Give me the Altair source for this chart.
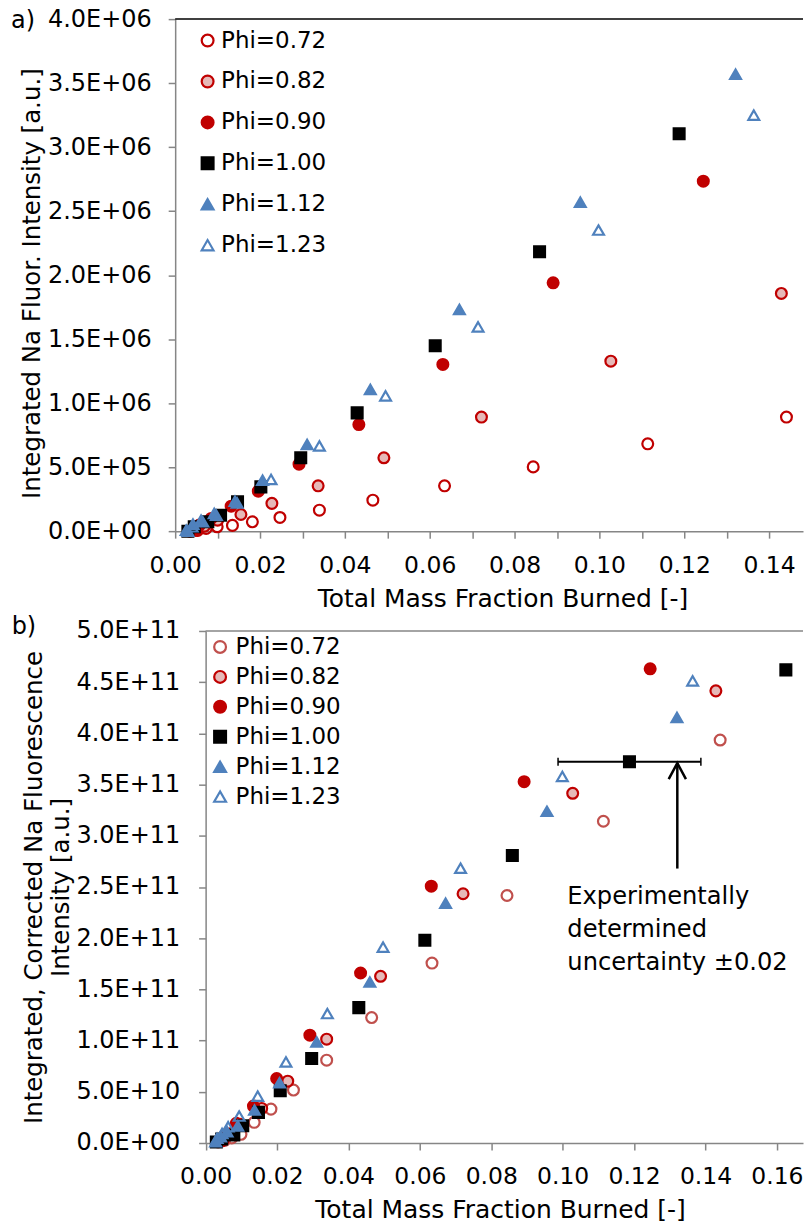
import altair as alt
import pandas as pd

PHI = ["Phi=0.72", "Phi=0.82", "Phi=0.90", "Phi=1.00", "Phi=1.12", "Phi=1.23"]
SHAPES = ["circle", "circle", "circle", "square", "triangle-up", "triangle-up"]
FILLS = ["transparent", "#E6B9B8", "#C00000", "#000000", "#4F81BD", "transparent"]
STROKES_A = ["#C00000", "#C00000", "#C00000", "#000000", "#4F81BD", "#4F81BD"]
STROKES_B = ["#C0504D", "#C00000", "#C00000", "#000000", "#4F81BD", "#4F81BD"]

# ---------------- panel a) ----------------
a_x_072 = [0.0035, 0.0053, 0.0073, 0.0099, 0.0135, 0.0182, 0.0247, 0.0340, 0.0466, 0.0635, 0.0844, 0.1114, 0.1441]
a_y_072 = [0.0, 0.005e6, 0.021e6, 0.034e6, 0.045e6, 0.073e6, 0.107e6, 0.164e6, 0.242e6, 0.354e6, 0.502e6, 0.682e6, 0.891e6]
a_x_082 = [0.0049, 0.0069, 0.0100, 0.0155, 0.0228, 0.0337, 0.0492, 0.0722, 0.1027, 0.1429]
a_y_082 = [0.008e6, 0.039e6, 0.086e6, 0.130e6, 0.217e6, 0.354e6, 0.573e6, 0.891e6, 1.328e6, 1.857e6]
a_x_090 = [0.0045, 0.0057, 0.0085, 0.0132, 0.0196, 0.0292, 0.0433, 0.0631, 0.0891, 0.1245]
a_y_090 = [0.008e6, 0.047e6, 0.099e6, 0.195e6, 0.3125e6, 0.523e6, 0.833e6, 1.302e6, 1.940e6, 2.734e6]
a_x_100 = [0.0030, 0.0045, 0.0077, 0.0107, 0.0147, 0.0202, 0.0296, 0.0429, 0.0613, 0.0859, 0.1188]
a_y_100 = [0.0, 0.034e6, 0.073e6, 0.125e6, 0.229e6, 0.346e6, 0.573e6, 0.924e6, 1.448e6, 2.182e6, 3.104e6]
a_x_112 = [0.0026, 0.0042, 0.0061, 0.0092, 0.0141, 0.0206, 0.0311, 0.0460, 0.0670, 0.0955, 0.1321]
a_y_112 = [0.008e6, 0.055e6, 0.086e6, 0.138e6, 0.234e6, 0.398e6, 0.677e6, 1.107e6, 1.732e6, 2.570e6, 3.570e6]
a_x_123 = [0.0030, 0.0040, 0.0065, 0.0097, 0.0146, 0.0226, 0.0340, 0.0496, 0.0714, 0.0998, 0.1364]
a_y_123 = [0.0, 0.034e6, 0.073e6, 0.125e6, 0.221e6, 0.404e6, 0.666e6, 1.057e6, 1.596e6, 2.352e6, 3.250e6]

# ---------------- panel b) ----------------
b_x_072 = [0.0035, 0.0053, 0.0073, 0.0099, 0.0136, 0.0183, 0.0246, 0.0339, 0.0465, 0.0634, 0.0844, 0.1114, 0.1441]
b_y_072 = [0.01e11, 0.025e11, 0.05e11, 0.085e11, 0.202e11, 0.331e11, 0.517e11, 0.809e11, 1.225e11, 1.757e11, 2.417e11, 3.142e11, 3.935e11]
b_x_082 = [0.0049, 0.0069, 0.0097, 0.0157, 0.0230, 0.0339, 0.0490, 0.0721, 0.1028, 0.1429]
b_y_082 = [0.03e11, 0.09e11, 0.182e11, 0.338e11, 0.604e11, 1.014e11, 1.628e11, 2.434e11, 3.415e11, 4.415e11]
b_x_090 = [0.0045, 0.0057, 0.0086, 0.0134, 0.0199, 0.0292, 0.0434, 0.0632, 0.0892, 0.1245]
b_y_090 = [0.02e11, 0.08e11, 0.192e11, 0.361e11, 0.630e11, 1.053e11, 1.660e11, 2.508e11, 3.528e11, 4.630e11]
b_x_100 = [0.0030, 0.0045, 0.0079, 0.0104, 0.0148, 0.0209, 0.0297, 0.0429, 0.0614, 0.0859, 0.1187, 0.1625]
b_y_100 = [0.01e11, 0.04e11, 0.078e11, 0.169e11, 0.299e11, 0.510e11, 0.825e11, 1.322e11, 1.979e11, 2.807e11, 3.723e11, 4.620e11]
b_x_112 = [0.0028, 0.0042, 0.0060, 0.0090, 0.0137, 0.0207, 0.0311, 0.0460, 0.0672, 0.0956, 0.1320]
b_y_112 = [0.013e11, 0.061e11, 0.110e11, 0.166e11, 0.322e11, 0.588e11, 0.987e11, 1.572e11, 2.342e11, 3.239e11, 4.155e11]
b_x_123 = [0.0032, 0.0046, 0.0063, 0.0094, 0.0146, 0.0225, 0.0341, 0.0497, 0.0714, 0.0999, 0.1364]
b_y_123 = [0.046e11, 0.094e11, 0.159e11, 0.263e11, 0.458e11, 0.792e11, 1.264e11, 1.913e11, 2.683e11, 3.580e11, 4.513e11]

# uncertainty annotation (panel b)
err_x_center = [0.1187]
err_halfwidth = 0.02
err_y = [3.723e11]
arrow_x = [0.1321]
arrow_y_start = [2.68e11]
arrow_y_tip = [3.71e11]
ann_lines = ["Experimentally", "determined", "uncertainty \u00b10.02"]
ann_x = [0.1013]
ann_y = [2.515e11]

A_XS = [a_x_072, a_x_082, a_x_090, a_x_100, a_x_112, a_x_123]
A_YS = [a_y_072, a_y_082, a_y_090, a_y_100, a_y_112, a_y_123]
B_XS = [b_x_072, b_x_082, b_x_090, b_x_100, b_x_112, b_x_123]
B_YS = [b_y_072, b_y_082, b_y_090, b_y_100, b_y_112, b_y_123]

FONT = "DejaVu Sans"
GRAY = "#868686"


def make_df(xs, ys):
    rows = []
    for k, p in enumerate(PHI):
        for x, y in zip(xs[k], ys[k]):
            rows.append({"phi": p, "k": k, "x": x, "y": y})
    return pd.DataFrame(rows)


def legend(lx, ly, row_pad, label_off):
    return alt.Legend(title=None, orient="none", legendX=lx, legendY=ly,
                      rowPadding=row_pad, labelOffset=label_off, symbolSize=140,
                      symbolStrokeWidth=2.2, labelFontSize=23, labelFont=FONT,
                      padding=0, labelColor="black")


def points(df, xaxis, yaxis, xscale, ymax, strokes, leg):
    return alt.Chart(df).mark_point(size=118, strokeWidth=2.2, opacity=1, filled=False).encode(
        x=alt.X("x:Q", scale=xscale, axis=xaxis),
        y=alt.Y("y:Q", scale=alt.Scale(domain=[0, ymax], nice=False, zero=False), axis=yaxis),
        shape=alt.Shape("phi:N", scale=alt.Scale(domain=PHI, range=SHAPES), legend=leg),
        fill=alt.Fill("phi:N", scale=alt.Scale(domain=PHI, range=FILLS), legend=leg),
        stroke=alt.Stroke("phi:N", scale=alt.Scale(domain=PHI, range=strokes), legend=leg),
        order=alt.Order("k:Q"),
    )


X_LABEL = "round(datum.value*100) % 2 == 0 ? format(datum.value, '.2f') : ''"

# ---------- top ----------
A_W = 629
A_XMAX = 0.1480
A_YMAX = 4.0e6
a_xscale = alt.Scale(domain=[0, A_XMAX], nice=False, zero=False)
a_xaxis = alt.Axis(values=[i / 100 for i in range(15)], labelExpr=X_LABEL,
                   title="Total Mass Fraction Burned [-]", titleX=328, titleY=55,
                   titleAlign="center", titleBaseline="top", titleFontSize=25,
                   labelFontSize=23.5, tickSize=7, labelPadding=15, labelOverlap=False,
                   labelFlush=False)
a_yaxis = alt.Axis(values=[i * 250000 for i in range(17)],
                   labelExpr="round(datum.value/250000) % 2 == 0 ? (datum.value == 0 ? '0.0E+00' : replace(upper(format(datum.value, '.1e')), 'E+', 'E+0')) : ''",
                   title="Integrated Na Fluor. Intensity [a.u.]", titleAngle=270,
                   titleX=-142.7, titleY=264.5, titleAlign="center", titleBaseline="middle",
                   titleFontSize=24.5, tickSize=7, labelPadding=17, labelOverlap=False,
                   labelFlush=False)

a_pts = points(make_df(A_XS, A_YS), a_xaxis, a_yaxis, a_xscale, A_YMAX, STROKES_A,
               legend(21, 10, 17, 2))
a_top = alt.Chart(pd.DataFrame({"x": [0.0], "x2": [A_XMAX], "y": [A_YMAX]})).mark_rule(
    color="black", strokeWidth=1.5).encode(x="x:Q", x2="x2:Q", y="y:Q")
a_lbl = alt.Chart(pd.DataFrame({"t": ["a)"]})).mark_text(
    align="left", baseline="middle", fontSize=24, font=FONT, color="black").encode(
    text="t:N", x=alt.value(-164.5), y=alt.value(2))
top = alt.layer(a_pts, a_top, a_lbl).properties(width=A_W, height=513)

# ---------- bottom ----------
B_SHIFT = 30.5
B_W = 629
B_XMAX = 0.1673
B_YMAX = 5.0e11
b_xscale = alt.Scale(domain=[0, B_XMAX], nice=False, zero=False, range=[B_SHIFT, B_W])
b_xaxis = alt.Axis(values=[i / 100 for i in range(17)], labelExpr=X_LABEL,
                   title="Total Mass Fraction Burned [-]", titleX=B_SHIFT + 295, titleY=55,
                   titleAlign="center", titleBaseline="top", titleFontSize=25,
                   labelFontSize=23.5, tickSize=7, labelPadding=15, labelOverlap=False,
                   labelFlush=False)
b_yaxis = alt.Axis(values=[i * 2.5e10 for i in range(21)],
                   labelExpr="round(datum.value/2.5e10) % 2 == 0 ? (datum.value == 0 ? '0.0E+00' : upper(format(datum.value, '.1e'))) : ''",
                   title=["Integrated, Corrected Na Fluorescence", "Intensity [a.u.]"],
                   titleAngle=270, titleX=-171.7, titleY=256.5, titleAlign="center",
                   titleBaseline="middle", titleLineHeight=27.3, titleFontSize=24.5,
                   tickSize=7, labelPadding=19, labelOverlap=False, labelFlush=False,
                   offset=-B_SHIFT)

b_pts = points(make_df(B_XS, B_YS), b_xaxis, b_yaxis, b_xscale, B_YMAX, STROKES_B,
               legend(B_SHIFT + 3, 4.5, 6, 4))
b_top = alt.Chart(pd.DataFrame({"x": [0.0], "x2": [B_XMAX], "y": [B_YMAX]})).mark_rule(
    color=GRAY, strokeWidth=1.5).encode(x="x:Q", x2="x2:Q", y="y:Q")
b_lbl = alt.Chart(pd.DataFrame({"t": ["b)"]})).mark_text(
    align="left", baseline="middle", fontSize=24, font=FONT, color="black").encode(
    text="t:N", x=alt.value(B_SHIFT - 194.3), y=alt.value(-3.5))

err_df = pd.DataFrame({
    "x1": [c - err_halfwidth for c in err_x_center],
    "x2": [c + err_halfwidth for c in err_x_center],
    "y": err_y,
})
err_bar = alt.Chart(err_df).mark_rule(color="black", strokeWidth=2).encode(
    x="x1:Q", x2="x2:Q", y="y:Q")
cap_df = pd.DataFrame({"x": list(err_df["x1"]) + list(err_df["x2"]), "y": err_y * 2})
err_caps = alt.Chart(cap_df).mark_tick(orient="vertical", size=8, thickness=1.5, color="black",
                                       opacity=1).encode(x="x:Q", y="y:Q")
arr_df = pd.DataFrame({"x": arrow_x, "y": arrow_y_start, "y2": arrow_y_tip})
arr_shaft = alt.Chart(arr_df).mark_rule(color="black", strokeWidth=2.5).encode(
    x="x:Q", y="y:Q", y2="y2:Q")
arr_head = alt.Chart(arr_df).mark_point(shape="M-0.54,1L0,0L0.54,1", size=1024, filled=False,
                                        strokeWidth=2.5, color="black", opacity=1).encode(
    x="x:Q", y="y2:Q")
ann = alt.Chart(pd.DataFrame({"x": ann_x, "y": ann_y})).mark_text(
    text=ann_lines, align="left", baseline="top", fontSize=24.2, font=FONT, color="black",
    lineHeight=33).encode(x="x:Q", y="y:Q")

bottom = alt.layer(b_pts, b_top, b_lbl, err_bar, err_caps, arr_shaft, arr_head, ann).properties(
    width=B_W, height=513)

chart = alt.vconcat(top, bottom, spacing=4).properties(
    padding={"left": 10.5, "top": 6, "right": 0, "bottom": 0},
    background="white",
).resolve_scale(
    x="independent", y="independent", shape="independent", fill="independent",
    stroke="independent",
).resolve_legend(
    shape="independent", fill="independent", stroke="independent",
).configure(font=FONT).configure_view(stroke=None).configure_axis(
    labelFont=FONT, titleFont=FONT, labelFontSize=24, titleFontWeight="normal",
    labelColor="black", titleColor="black", domainColor=GRAY, tickColor=GRAY,
    domainWidth=1.5, tickWidth=1.5, grid=False,
)

chart.save("out.html", embed_options={"renderer": "svg", "actions": False})
